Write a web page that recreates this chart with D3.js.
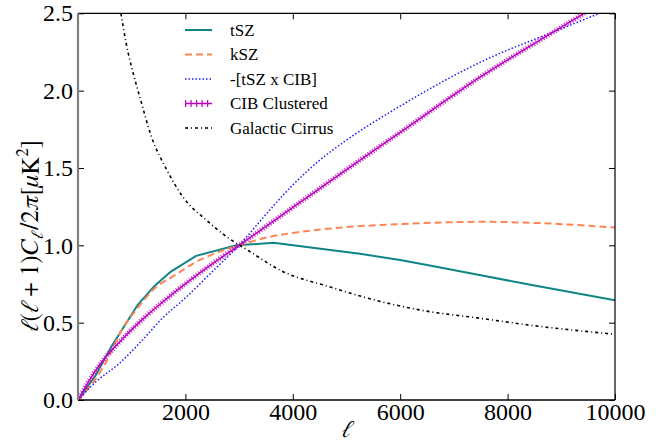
<!DOCTYPE html>
<html>
<head>
<meta charset="utf-8">
<script src="https://cdn.jsdelivr.net/npm/d3@7"></script>
<style>
  html, body { margin: 0; padding: 0; background: #fff; }
  svg { display: block; }
</style>
</head>
<body>
<svg id="chart" width="657" height="442"></svg>
<script>
// ---- data ----
const seriesNames = ["tSZ", "kSZ", "-[tSZ x CIB]", "CIB Clustered", "Galactic Cirrus"];

const tszL = [0, 330, 620, 1110, 1420, 1730, 2200, 2950, 3640, 4700, 5250, 6000, 6550, 7500, 8500, 10000];
const tszV = [0, 0.16, 0.345, 0.614, 0.736, 0.83, 0.932, 1.0, 1.016, 0.969, 0.945, 0.905, 0.87, 0.806, 0.74, 0.645];

const kszL = [0, 270, 500, 830, 1080, 1390, 1820, 2200, 2630, 3000, 3640, 4000, 4900, 6000, 7500, 8500, 10000];
const kszV = [0, 0.108, 0.23, 0.463, 0.581, 0.71, 0.81, 0.893, 0.958, 1.0, 1.06, 1.08, 1.115, 1.137, 1.152, 1.145, 1.115];

const crossL = [0, 335, 770, 1200, 1575, 2000, 2500, 3000, 3500, 4000, 4500, 5000, 6000, 7500, 9000, 10000];
const crossV = [0, 0.118, 0.237, 0.388, 0.53, 0.66, 0.83, 1.0, 1.2, 1.39, 1.55, 1.68, 1.90, 2.185, 2.40, 2.54];

const cibL = [0, 200, 400, 800, 1200, 1600, 2010, 2500, 3000, 4000, 5000, 6000, 7500, 9000, 10000];
const cibV = [0, 0.12, 0.226, 0.385, 0.521, 0.64, 0.754, 0.88, 1.0, 1.245, 1.49, 1.73, 2.09, 2.41, 2.62];

const cirrusL = [800, 900, 1030, 1150, 1370, 1650, 1960, 2400, 2770, 3200, 3760, 4700, 5600, 6400, 7500, 8500, 9850, 10000];
const cirrusV = [2.5, 2.3, 2.11, 1.96, 1.70, 1.49, 1.31, 1.16, 1.055, 0.96, 0.84, 0.73, 0.64, 0.58, 0.528, 0.48, 0.43, 0.425];

const xTicks = [2000, 4000, 6000, 8000, 10000];
const yTicks = [0, 0.5, 1.0, 1.5, 2.0, 2.5];

// ---- layout ----
const FONT = '"Liberation Serif", "Times New Roman", serif';
const MATH = '"FreeSerif", "Liberation Serif", serif';
const svg = d3.select("#chart");
const L = 78, R = 615, T = 13.3, B = 400;
const x = d3.scaleLinear().domain([0, 10000]).range([L, R]);
const y = d3.scaleLinear().domain([0, 2.5]).range([B, T]);

const zip = (a, b) => a.map((v, i) => [v, b[i]]);

svg.append("defs").append("clipPath").attr("id", "clip")
  .append("rect").attr("x", L).attr("y", T).attr("width", R - L).attr("height", B - T);

const plot = svg.append("g").attr("clip-path", "url(#clip)");

const lineLin = d3.line().x(d => x(d[0])).y(d => y(d[1]));
const lineSmooth = d3.line().x(d => x(d[0])).y(d => y(d[1])).curve(d3.curveMonotoneX);

const styles = [
  { data: zip(tszL, tszV), gen: lineLin, color: "#0f8585", width: 2, dash: null },
  { data: zip(kszL, kszV), gen: lineSmooth, color: "#ff8555", width: 2, dash: "7,4" },
  { data: zip(crossL, crossV), gen: lineSmooth, color: "#1a1aff", width: 1.5, dash: "1.5,2" },
  { data: zip(cibL, cibV), gen: lineSmooth, color: "#c000c0", width: 1.5, dash: null, hatch: true },
  { data: zip(cirrusL, cirrusV), gen: lineSmooth, color: "#000", width: 1.6, dash: "3,3,1,3" }
];

styles.forEach(s => {
  if (s.hatch) {
    plot.append("path").attr("d", s.gen(s.data)).attr("fill", "none")
      .attr("stroke", s.color).attr("stroke-width", 5).attr("stroke-dasharray", "1,1.8")
      .attr("opacity", 0.85);
  }
  plot.append("path").attr("d", s.gen(s.data)).attr("fill", "none")
    .attr("stroke", s.color).attr("stroke-width", s.width)
    .attr("stroke-dasharray", s.dash);
});

// ---- axes ----
const fontSize = 24;
const xAxis = d3.axisBottom(x).tickValues(xTicks).tickSizeInner(-6).tickSizeOuter(0).tickPadding(3)
  .tickFormat(d3.format("d"));
const gx = svg.append("g").attr("transform", `translate(0,${B})`).call(xAxis);
gx.select(".domain").remove();
gx.attr("font-family", null).attr("font-size", null);
gx.selectAll("text").style("font-size", fontSize + "px").style("font-family", FONT);
gx.selectAll("line").attr("stroke", "#000");

const yAxis = d3.axisLeft(y).tickValues(yTicks).tickSizeInner(-6).tickSizeOuter(0).tickPadding(5)
  .tickFormat(d3.format(".1f"));
const gy = svg.append("g").attr("transform", `translate(${L},0)`).call(yAxis);
gy.select(".domain").remove();
gy.attr("font-family", null).attr("font-size", null);
gy.selectAll("text").style("font-size", fontSize + "px").style("font-family", FONT);
gy.selectAll("line").attr("stroke", "#000");

const gt = svg.append("g").attr("transform", `translate(0,${T})`)
  .call(d3.axisTop(x).tickValues(xTicks).tickSizeInner(-6).tickSizeOuter(0).tickFormat(""));
gt.select(".domain").remove();
const gr = svg.append("g").attr("transform", `translate(${R},0)`)
  .call(d3.axisRight(y).tickValues(yTicks).tickSizeInner(-6).tickSizeOuter(0).tickFormat(""));
gr.select(".domain").remove();

// spines
svg.append("line").attr("x1", L).attr("x2", R).attr("y1", T).attr("y2", T).attr("stroke", "#000").attr("stroke-width", 1.2);
svg.append("line").attr("x1", L).attr("x2", R).attr("y1", B).attr("y2", B).attr("stroke", "#000").attr("stroke-width", 1.4);
svg.append("line").attr("x1", R).attr("x2", R).attr("y1", T).attr("y2", B).attr("stroke", "#000").attr("stroke-width", 1.2);
svg.append("line").attr("x1", L).attr("x2", L).attr("y1", T).attr("y2", B).attr("stroke", "#808080").attr("stroke-width", 2.2);

// ---- axis labels ----
svg.append("text").attr("x", (L + R) / 2).attr("y", 437).attr("text-anchor", "middle")
  .style("font-family", MATH).style("font-size", "24px").style("font-style", "italic").text("ℓ");

const yl = svg.append("text").attr("transform", "translate(38,236) rotate(-90)")
  .attr("text-anchor", "middle").style("font-family", MATH).style("font-size", "25px");
yl.append("tspan").style("font-style", "italic").text("ℓ");
yl.append("tspan").text("(");
yl.append("tspan").style("font-style", "italic").text("ℓ");
yl.append("tspan").text(" + 1)");
yl.append("tspan").style("font-style", "italic").text("C");
yl.append("tspan").style("font-style", "italic").style("font-size", "17px").attr("dx", 1).attr("dy", 5).text("ℓ");
yl.append("tspan").attr("dx", 2).attr("dy", -5).text("/2");
yl.append("tspan").style("font-style", "italic").text("π");
yl.append("tspan").text("[");
yl.append("tspan").style("font-style", "italic").text("μ");
yl.append("tspan").text("K");
yl.append("tspan").style("font-size", "17px").attr("dy", -10).text("2");
yl.append("tspan").attr("dy", 10).text("]");

// ---- legend ----
const legend = svg.append("g");
const legX0 = 185, legX1 = 212, legTextX = 230, legY0 = 30, legDY = 24.5;
styles.forEach((s, i) => {
  const yy = legY0 + i * legDY;
  if (s.hatch) {
    legend.append("line").attr("x1", legX0).attr("x2", legX1).attr("y1", yy).attr("y2", yy)
      .attr("stroke", s.color).attr("stroke-width", 7).attr("stroke-dasharray", "1.2,4.3");
  }
  legend.append("line").attr("x1", legX0).attr("x2", legX1).attr("y1", yy).attr("y2", yy)
    .attr("stroke", s.color).attr("stroke-width", s.width).attr("stroke-dasharray", s.dash);
  legend.append("text").attr("x", legTextX).attr("y", yy).attr("dy", "0.35em")
    .style("font-family", FONT).style("font-size", "17px").text(seriesNames[i]);
});
</script>
</body>
</html>
